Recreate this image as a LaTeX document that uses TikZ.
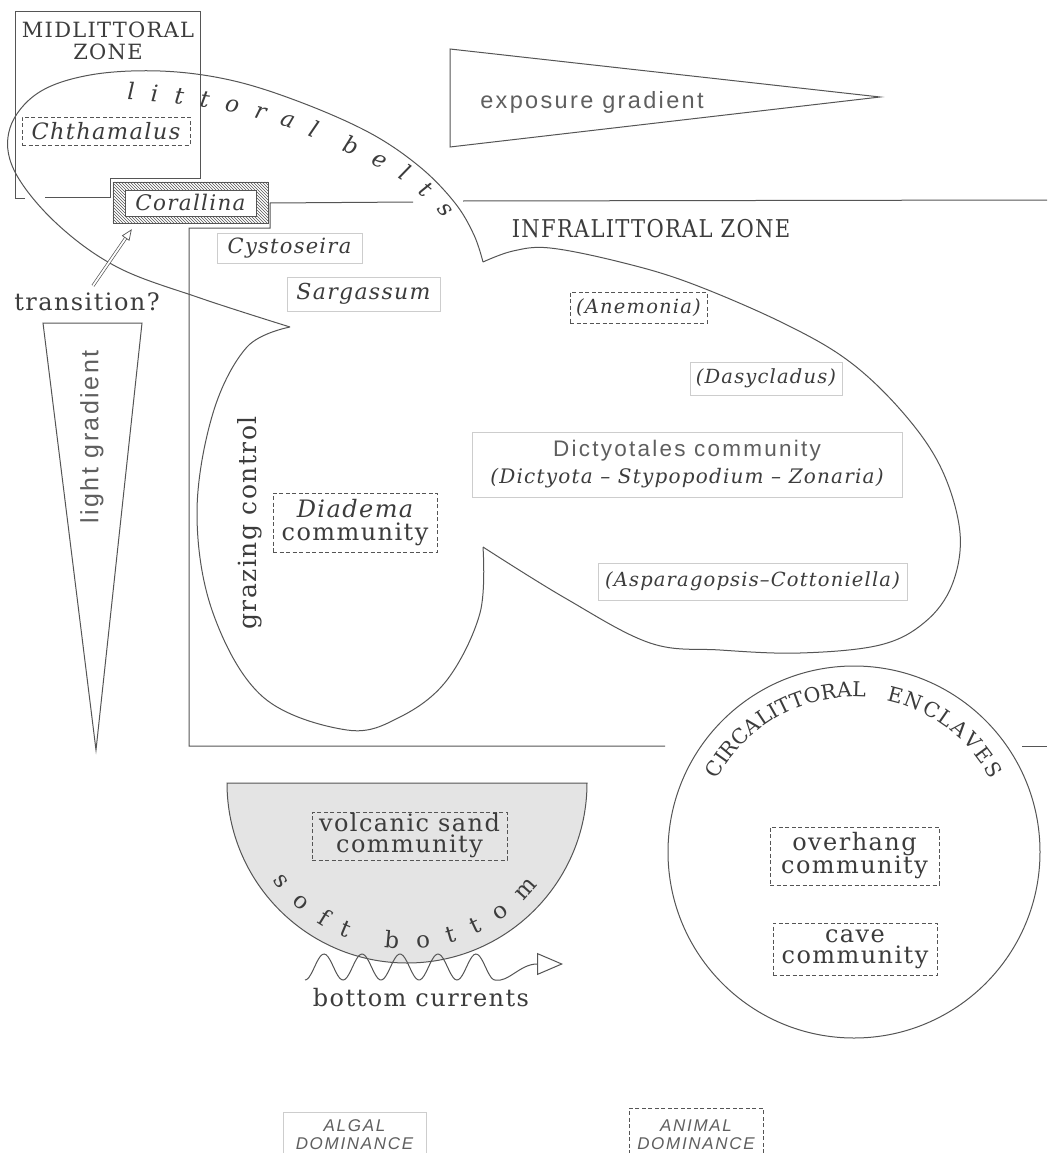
\documentclass[tikz,border=0pt]{standalone}
\usepackage{fontspec}
\setmainfont{DejaVu Serif}[LetterSpace=6]
\newfontfamily\sanf{Liberation Sans}[LetterSpace=10]
\usetikzlibrary{arrows.meta,patterns,decorations.text}
\definecolor{ln}{RGB}{85,85,85}
\definecolor{tx}{RGB}{60,60,60}
\definecolor{tl}{RGB}{95,95,95}
\definecolor{fb}{RGB}{205,205,205}
\definecolor{sb}{RGB}{228,228,228}
\tikzset{
  line/.style={draw=ln, line width=1pt},
  lab/.style={text=tx, inner sep=0pt},
  faintbox/.style={draw=fb, line width=0.8pt, inner sep=0pt, text=tx},
  dbox/.style={draw=ln, dash pattern=on 4pt off 2.5pt, line width=0.8pt, inner sep=0pt, text=tx},
  sz/.style 2 args={minimum width=#1, minimum height=#2},
  itl/.style={font=\itshape\fontsize{#1}{#1}\selectfont},
  upr/.style={font=\fontsize{#1}{22}\selectfont},
  snf/.style={font=\sanf\fontsize{#1}{#1}\selectfont, text=tl},
  arctext/.style={decorate, decoration={text along path, text={#1}, text align={fit to path}}},
}
\begin{document}
\begin{tikzpicture}[x=1pt,y=-1pt]
\fill[white] (0,0) rectangle (1047,1153);
\useasboundingbox (0,0) rectangle (1047,1153);

% zone outlines
\draw[line] (25,198) -- (15,198) -- (15,12) -- (200,12) -- (200,178) -- (110,178) -- (110,197) -- (45,197);
\draw[line] (413,202) -- (270,203) -- (270,228) -- (189,228) -- (189,746) -- (665,746);
\draw[line] (463,201) -- (1047,200);
\draw[line] (1022,746) -- (1047,746);

% big outline: littoral belts + infralittoral + Diadema lobes
\draw[line] plot[smooth, tension=0.6] coordinates {(290,327) (200,298) (117,267) (55,222) (14,170) (10,128) (38,93) (90,75) (160,71) (230,80) (300,102) (370,133) (420,167) (455,203) (474,235) (483,262)}
  plot[smooth, tension=0.6] coordinates {(483,262) (513,251) (550,248) (620,262) (690,283) (783,323) (850,362) (905,415) (942,470) (960,533) (952,585) (925,622) (880,645) (800,653) (720,650) (650,643) (565,598) (483,547)}
  plot[smooth, tension=0.6] coordinates {(483,547) (480,613) (447,680) (400,717) (347,730) (263,697) (213,613) (197,513) (213,413) (247,347) (290,327)};

% gradients
\draw[line] (450,49) -- (880,97) -- (450,147) -- cycle;
\draw[line] (43,323) -- (142,323) -- (96,750) -- cycle;

% soft bottom
\filldraw[fill=sb, draw=ln, line width=1pt] (227,783) arc[start angle=180, end angle=0, radius=180] -- cycle;
% circalittoral circle
\draw[line] (854,852) circle[radius=186];

% texts
\node[lab, upr=21, align=center] (mid) at (108,41) {MIDLITTORAL\\ZONE};
\node[lab, font=\fontsize{24.5}{24.5}\selectfont] (infra) at (651,229) {\scalebox{0.86}[1]{INFRALITTORAL ZONE}};
\node[lab, snf=23.5] (expo) at (592,102) {exposure gradient};
\node[lab, snf=25, rotate=90] (light) at (92,437) {light gradient};
\node[lab, upr=25, rotate=90] (graz) at (250,523) {grazing control};
\node[lab, upr=24] (trans) at (87,302) {transition?};

\node[dbox, sz={168pt}{28pt}, itl=22.5] (chth) at (106,131) {Chthamalus};
\node[lab, sz={155pt}{41pt}, itl=21.5] (coral) at (190.5,202.5) {Corallina};
\fill[pattern=north west lines, pattern color=ln, even odd rule] (coral.south west) rectangle (coral.north east) ([xshift=12pt,yshift=7pt]coral.south west) rectangle ([xshift=-12pt,yshift=-8pt]coral.north east);
\draw[ln, line width=0.4pt] (coral.south west) rectangle (coral.north east);
\draw[ln, line width=0.4pt] ([xshift=12pt,yshift=7pt]coral.south west) rectangle ([xshift=-12pt,yshift=-8pt]coral.north east);

\node[faintbox, sz={145pt}{30pt}, itl=21] (cyst) at (289.5,248) {Cystoseira};
\node[faintbox, sz={153pt}{34pt}, itl=22] (sarg) at (363.5,294) {Sargassum};
\node[dbox, sz={137pt}{31pt}, itl=19.5] (anem) at (638.5,307.5) {(Anemonia)};
\node[faintbox, sz={152pt}{33pt}, itl=19.5] (dasy) at (766,378.5) {(Dasycladus)};
\node[faintbox, sz={430pt}{65pt}, align=center, font=\fontsize{20}{27}\selectfont] (dict) at (687,464.5)
  {{\sanf\fontsize{22.5}{27}\selectfont\color{tl}Dictyotales community}\\{\itshape (Dictyota -- Stypopodium -- Zonaria)}};
\node[faintbox, sz={309pt}{37pt}, itl=19.5] (aspar) at (752.5,581.5) {(Asparagopsis--Cottoniella)};
\node[dbox, sz={164pt}{59pt}, align=center, font=\fontsize{24}{23}\selectfont] (diad) at (355,522.5) {{\itshape Diadema}\\community};
\node[dbox, sz={195pt}{48pt}, align=center, font=\fontsize{24}{21}\selectfont] (volc) at (409.5,836) {volcanic sand\\community};
\node[dbox, sz={169pt}{58pt}, align=center, font=\fontsize{24}{23}\selectfont] (over) at (854.5,856) {overhang\\community};
\node[dbox, sz={164pt}{52pt}, align=center, font=\fontsize{24}{21}\selectfont] (cave) at (855,949) {cave\\community};
\node[lab, upr=24] (curr) at (421,998) {bottom currents};

\node[faintbox, sz={143pt}{46pt}, align=center, font=\sanf\itshape\fontsize{17}{18}\selectfont, text=tl] (algal) at (354.5,1135) {ALGAL\\DOMINANCE};
\node[dbox, sz={134pt}{54pt}, align=center, font=\sanf\itshape\fontsize{17}{18}\selectfont, text=tl] (animal) at (696,1135) {ANIMAL\\DOMINANCE};

% transition arrow
\draw[ln, line width=0.7pt, double=white, double distance=1.8pt, -{Triangle[open,length=11pt,width=9pt]}] ([xshift=6pt,yshift=7pt]trans.north) -- ([xshift=19pt,yshift=-6pt]coral.south west);

% bottom currents wave
\draw[line, -{Triangle[open, length=26pt, width=22pt]}] plot[domain=305:495, samples=100, smooth] (\x, {967+13*cos(9.473684*(\x-305))}) .. controls (508,983) and (520,964) .. (537,964) -- (563,964);

% curved texts
\path[arctext={|\color{tx}\itshape\fontsize{23}{23}\selectfont|littoral}]
  (127,100) .. controls (195,102) and (262,115) .. (314,138);
\path[arctext={|\color{tx}\itshape\fontsize{23}{23}\selectfont|belts}]
  (341,151) .. controls (380,165) and (420,188) .. (444,219);
\path[arctext={|\color{tx}\fontsize{23}{23}\selectfont|soft}]
  (407,783) ++(144:166) arc[start angle=144, end angle=111, radius=166];
\path[arctext={|\color{tx}\fontsize{23}{23}\selectfont|bottom}]
  (407,783) ++(98:166) arc[start angle=98, end angle=38, radius=166];
\path[arctext={|\color{tx}\fontsize{20.5}{20.5}\selectfont|CIRCALITTORAL}]
  (854,852) ++(-152:155) arc[start angle=-152, end angle=-86, radius=155];
\path[arctext={|\color{tx}\fontsize{20.5}{20.5}\selectfont|ENCLAVES}]
  (854,852) ++(-78:155) arc[start angle=-78, end angle=-28, radius=155];
\end{tikzpicture}
\end{document}
